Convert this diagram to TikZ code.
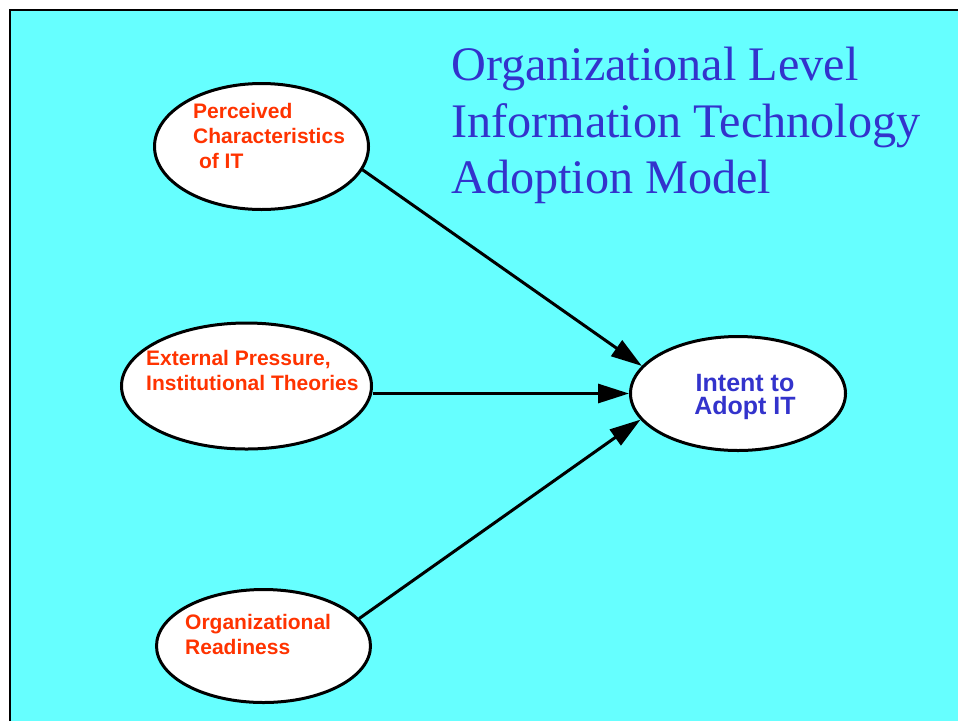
\documentclass[tikz,border=0pt]{standalone}
\usepackage{fontspec}
\setmainfont{Liberation Serif}
\setsansfont{Liberation Sans}
\usetikzlibrary{arrows.meta,shapes.geometric}
\definecolor{SkyCyan}{RGB}{102,255,255}
\definecolor{FactorRed}{RGB}{255,51,0}
\definecolor{TitleBlue}{RGB}{51,51,204}

\begin{document}
\begin{tikzpicture}[x=1pt, y=-1pt,
  bubble/.style={draw, ellipse, line width=3pt, fill=white, inner sep=0pt},
  factor/.style={font=\sffamily\bfseries\fontsize{21}{25}\selectfont, text=FactorRed, align=left, anchor=north west, inner sep=0pt},
  link/.style={-{Triangle[length=31pt,width=19pt]}, line width=3pt}]
\useasboundingbox (0,0) rectangle (958,721);
\fill[SkyCyan] (10,10) rectangle (958,721);
\draw[line width=2.5pt] (10,721) -- (10,10) -- (958,10);

% title
\node[font=\fontsize{48.2}{56.5}\selectfont, text=TitleBlue, align=left, anchor=north west, inner sep=0pt] (title) at (451,47) {Organizational Level\\Information Technology\\Adoption Model};

% ellipses
\node[bubble, minimum width=214pt, minimum height=126pt] (n1) at (261.5,146.5) {};
\node[bubble, minimum width=250pt, minimum height=126pt] (n2) at (246.5,386) {};
\node[bubble, minimum width=214pt, minimum height=113pt] (n3) at (263.5,646) {};
\node[bubble, minimum width=215pt, minimum height=114pt] (n4) at (738,393.5) {};

% texts
\node[factor] (t1) at (193,103) {Perceived\\Characteristics\\\ of IT};
\node[factor] (t2) at (146,350) {External Pressure,\\Institutional Theories};
\node[factor] (t3) at (185,614.5) {Organizational\\Readiness};
\node[font=\sffamily\bfseries\fontsize{25}{23.5}\selectfont, text=TitleBlue, align=center, anchor=north, inner sep=0pt] (t4) at (745,374) {Intent to\\Adopt IT};

\draw[link] (n1.-13) -- (n4.164);
\draw[link] (n2.east |- n4.west) -- (n4.west);
\draw[link] (n3.16) -- (n4.195.5);
\end{tikzpicture}
\end{document}
